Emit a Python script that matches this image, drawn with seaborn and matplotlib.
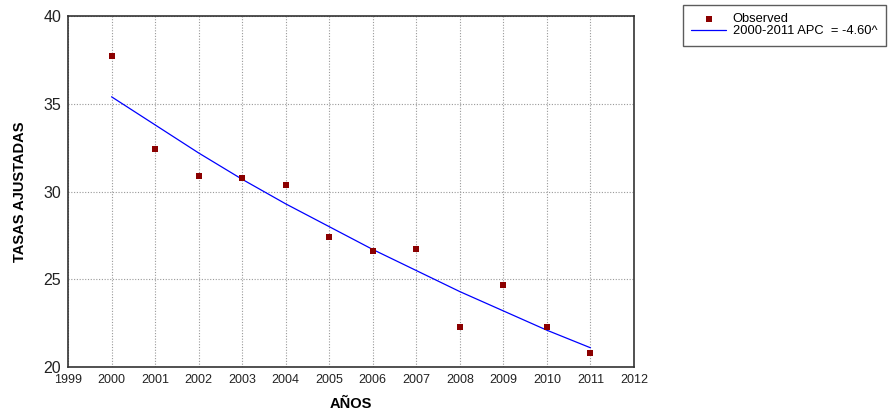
import seaborn as sns
import matplotlib.pyplot as plt
import numpy as np
import pandas as pd

# observed adjusted rates by year
years = [2000, 2001, 2002, 2003, 2004, 2005, 2006, 2007, 2008, 2009, 2010, 2011]
observed = [37.7, 32.4, 30.9, 30.8, 30.4, 27.4, 26.6, 26.7, 22.3, 24.7, 22.3, 20.8]
# joinpoint fitted values (APC = -4.60)
fitted = [35.4, 33.8, 32.2, 30.7, 29.3, 28.0, 26.7, 25.5, 24.3, 23.2, 22.1, 21.1]
xticks = list(range(1999, 2013))
yticks = [20, 25, 30, 35, 40]

df = pd.DataFrame({"year": years, "obs": observed, "fit": fitted})

sns.set_style("white")
plt.rcParams['font.family'] = ['Liberation Sans', 'DejaVu Sans']
plt.rcParams['text.color'] = 'black'

fig = plt.figure(figsize=(8.88, 4.12), dpi=100)
ax = fig.add_axes([0.0766, 0.109, 0.6374, 0.852])

sns.lineplot(data=df, x="year", y="fit", ax=ax, color="#0000ff", linewidth=0.9,
             label="2000-2011 APC  = -4.60^", zorder=2)
sns.scatterplot(data=df, x="year", y="obs", ax=ax, color="#8b0000", marker="s",
                s=22, edgecolor="#8b0000", linewidth=0, label="Observed", zorder=3)

ax.set_xlim(1999, 2012)
ax.set_ylim(20, 40)
ax.set_xticks(xticks)
ax.set_yticks(yticks)
ax.set_xticklabels([str(x) for x in xticks], fontsize=9)
ax.set_yticklabels([str(y) for y in yticks], fontsize=11.5)
ax.tick_params(length=0, pad=5, labelcolor="#222222")
ax.grid(True, linestyle=(0, (1, 1.5)), color="#999999", linewidth=0.8)
for s in ax.spines.values():
    s.set_color("#333333")
    s.set_linewidth(1.2)

ax.set_xlabel("AÑOS", fontsize=10.5, fontweight="bold", color="black")
ax.set_ylabel("TASAS AJUSTADAS", fontsize=10.5, fontweight="bold", color="black")
ax.xaxis.set_label_coords(0.5, -0.085)
ax.yaxis.set_label_coords(-0.072, 0.5)

h, l = ax.get_legend_handles_labels()
ax.get_legend().remove()
leg = fig.legend(h[::-1], l[::-1], loc="upper left", bbox_to_anchor=(683 / 888, 1 - 5 / 412),
                 fontsize=9.3, frameon=True, fancybox=False, borderpad=0.65,
                 labelspacing=0.0, handlelength=2.7, handletextpad=0.5, markerscale=0.8,
                 borderaxespad=0)
leg.get_frame().set_edgecolor("#333333")
leg.get_frame().set_linewidth(1.0)

fig.savefig("out.png", dpi=100)
